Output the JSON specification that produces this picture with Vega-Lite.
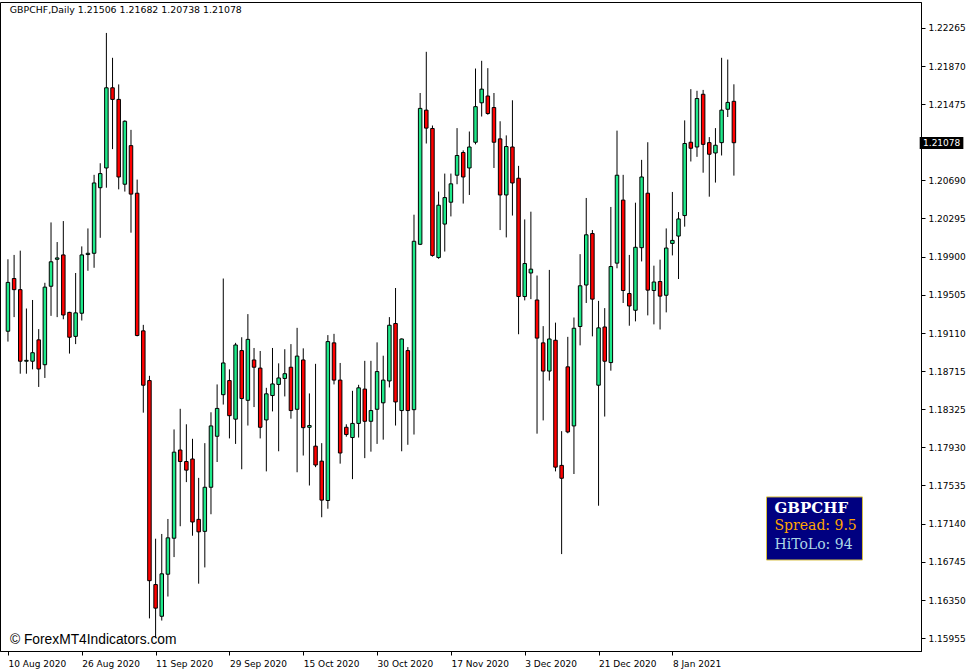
{
  "$schema": "https://vega.github.io/schema/vega-lite/v6.json",
  "width": 921,
  "height": 649,
  "autosize": {"type": "none"},
  "padding": {"left": 0, "top": 2, "right": 56, "bottom": 21},
  "background": "white",
  "config": {
    "view": {"stroke": "#000000", "strokeWidth": 1},
    "axis": {"labelFont": "DejaVu Sans", "labelFontSize": 9, "labelColor": "#000000", "tickColor": "#000000", "domainColor": "#000000", "grid": false, "title": null}
  },
  "datasets": {
    "candles": [
      {"i":0,"o":1.19129,"h":1.19873,"l":1.19022,"c":1.19634},
      {"i":1,"o":1.19674,"h":1.19918,"l":1.19275,"c":1.19559},
      {"i":2,"o":1.19559,"h":1.19962,"l":1.18690,"c":1.18819},
      {"i":3,"o":1.18819,"h":1.19364,"l":1.18690,"c":1.18828},
      {"i":4,"o":1.18819,"h":1.19452,"l":1.18735,"c":1.18907},
      {"i":5,"o":1.19040,"h":1.19151,"l":1.18553,"c":1.18739},
      {"i":6,"o":1.18783,"h":1.19630,"l":1.18646,"c":1.19585},
      {"i":7,"o":1.19594,"h":1.20254,"l":1.19288,"c":1.19847},
      {"i":8,"o":1.19873,"h":1.20051,"l":1.19275,"c":1.19887},
      {"i":9,"o":1.19918,"h":1.20268,"l":1.19253,"c":1.19297},
      {"i":10,"o":1.19324,"h":1.19330,"l":1.18898,"c":1.19067},
      {"i":11,"o":1.19076,"h":1.19731,"l":1.18996,"c":1.19319},
      {"i":12,"o":1.19315,"h":1.20006,"l":1.19240,"c":1.19918},
      {"i":13,"o":1.19922,"h":1.20192,"l":1.19754,"c":1.19935},
      {"i":14,"o":1.19935,"h":1.20746,"l":1.19785,"c":1.20662},
      {"i":15,"o":1.20613,"h":1.20866,"l":1.20095,"c":1.20759},
      {"i":16,"o":1.20817,"h":1.22213,"l":1.20613,"c":1.21646},
      {"i":17,"o":1.21646,"h":1.21956,"l":1.21012,"c":1.21526},
      {"i":18,"o":1.21526,"h":1.21681,"l":1.20596,"c":1.20724},
      {"i":19,"o":1.20649,"h":1.21310,"l":1.20573,"c":1.21300},
      {"i":20,"o":1.21048,"h":1.21211,"l":1.20148,"c":1.20547},
      {"i":21,"o":1.20556,"h":1.20697,"l":1.19076,"c":1.19085},
      {"i":22,"o":1.19133,"h":1.19195,"l":1.18287,"c":1.18571},
      {"i":23,"o":1.18619,"h":1.18668,"l":1.16160,"c":1.16550},
      {"i":24,"o":1.16510,"h":1.16984,"l":1.15960,"c":1.16266},
      {"i":25,"o":1.16182,"h":1.17033,"l":1.16138,"c":1.16621},
      {"i":26,"o":1.16617,"h":1.17188,"l":1.16386,"c":1.16993},
      {"i":27,"o":1.16989,"h":1.18114,"l":1.16794,"c":1.17879},
      {"i":28,"o":1.17901,"h":1.18327,"l":1.17113,"c":1.17782},
      {"i":29,"o":1.17782,"h":1.18167,"l":1.17569,"c":1.17693},
      {"i":30,"o":1.17808,"h":1.18017,"l":1.17015,"c":1.17157},
      {"i":31,"o":1.17184,"h":1.17613,"l":1.16519,"c":1.17055},
      {"i":32,"o":1.17060,"h":1.17972,"l":1.16687,"c":1.17516},
      {"i":33,"o":1.17516,"h":1.18291,"l":1.17237,"c":1.18150},
      {"i":34,"o":1.18043,"h":1.18579,"l":1.17777,"c":1.18331},
      {"i":35,"o":1.18473,"h":1.19674,"l":1.18371,"c":1.18801},
      {"i":36,"o":1.18619,"h":1.18735,"l":1.18021,"c":1.18256},
      {"i":37,"o":1.18220,"h":1.19009,"l":1.17964,"c":1.18987},
      {"i":38,"o":1.18929,"h":1.19067,"l":1.17702,"c":1.18433},
      {"i":39,"o":1.18415,"h":1.19306,"l":1.18154,"c":1.19045},
      {"i":40,"o":1.18832,"h":1.18956,"l":1.18345,"c":1.18757},
      {"i":41,"o":1.18748,"h":1.18925,"l":1.18021,"c":1.18136},
      {"i":42,"o":1.18212,"h":1.18544,"l":1.17680,"c":1.18482},
      {"i":43,"o":1.18464,"h":1.18956,"l":1.18300,"c":1.18584},
      {"i":44,"o":1.18579,"h":1.18797,"l":1.17888,"c":1.18646},
      {"i":45,"o":1.18641,"h":1.18943,"l":1.18455,"c":1.18690},
      {"i":46,"o":1.18757,"h":1.18996,"l":1.18225,"c":1.18309},
      {"i":47,"o":1.18322,"h":1.19164,"l":1.17671,"c":1.18872},
      {"i":48,"o":1.18832,"h":1.18952,"l":1.17844,"c":1.18132},
      {"i":49,"o":1.18136,"h":1.18486,"l":1.17534,"c":1.18154},
      {"i":50,"o":1.17941,"h":1.18792,"l":1.17724,"c":1.17746},
      {"i":51,"o":1.17786,"h":1.17972,"l":1.17206,"c":1.17383},
      {"i":52,"o":1.17379,"h":1.19089,"l":1.17294,"c":1.19022},
      {"i":53,"o":1.19009,"h":1.19102,"l":1.18579,"c":1.18624},
      {"i":54,"o":1.18624,"h":1.18801,"l":1.17760,"c":1.17870},
      {"i":55,"o":1.18136,"h":1.18167,"l":1.18039,"c":1.18061},
      {"i":56,"o":1.18030,"h":1.18513,"l":1.17600,"c":1.18176},
      {"i":57,"o":1.18176,"h":1.18575,"l":1.18030,"c":1.18544},
      {"i":58,"o":1.18531,"h":1.18823,"l":1.17817,"c":1.18198},
      {"i":59,"o":1.18198,"h":1.18823,"l":1.17884,"c":1.18309},
      {"i":60,"o":1.18322,"h":1.19014,"l":1.17964,"c":1.18712},
      {"i":61,"o":1.18389,"h":1.18876,"l":1.18008,"c":1.18624},
      {"i":62,"o":1.18615,"h":1.19275,"l":1.18548,"c":1.19191},
      {"i":63,"o":1.19209,"h":1.19576,"l":1.18154,"c":1.18398},
      {"i":64,"o":1.18309,"h":1.19054,"l":1.17888,"c":1.19049},
      {"i":65,"o":1.18929,"h":1.18965,"l":1.17955,"c":1.18309},
      {"i":66,"o":1.18318,"h":1.20334,"l":1.18061,"c":1.20059},
      {"i":67,"o":1.20028,"h":1.21592,"l":1.20020,"c":1.21433},
      {"i":68,"o":1.21415,"h":1.22018,"l":1.21070,"c":1.21229},
      {"i":69,"o":1.21225,"h":1.21256,"l":1.19900,"c":1.19913},
      {"i":70,"o":1.19891,"h":1.20573,"l":1.19878,"c":1.20432},
      {"i":71,"o":1.20237,"h":1.20759,"l":1.19953,"c":1.20511},
      {"i":72,"o":1.20463,"h":1.20759,"l":1.20316,"c":1.20653},
      {"i":73,"o":1.20742,"h":1.21229,"l":1.20649,"c":1.20946},
      {"i":74,"o":1.20977,"h":1.20999,"l":1.20449,"c":1.20724},
      {"i":75,"o":1.20817,"h":1.21194,"l":1.20538,"c":1.21034},
      {"i":76,"o":1.21083,"h":1.21845,"l":1.21061,"c":1.21451},
      {"i":77,"o":1.21491,"h":1.21925,"l":1.21349,"c":1.21632},
      {"i":78,"o":1.21561,"h":1.21849,"l":1.21367,"c":1.21380},
      {"i":79,"o":1.21442,"h":1.21592,"l":1.20817,"c":1.21083},
      {"i":80,"o":1.21118,"h":1.21300,"l":1.20175,"c":1.20538},
      {"i":81,"o":1.20538,"h":1.21154,"l":1.20099,"c":1.21039},
      {"i":82,"o":1.21034,"h":1.21517,"l":1.20325,"c":1.20662},
      {"i":83,"o":1.20711,"h":1.20839,"l":1.19098,"c":1.19488},
      {"i":84,"o":1.19488,"h":1.20285,"l":1.19448,"c":1.19829},
      {"i":85,"o":1.19731,"h":1.20365,"l":1.19461,"c":1.19771},
      {"i":86,"o":1.19452,"h":1.19705,"l":1.18070,"c":1.19058},
      {"i":87,"o":1.19009,"h":1.19182,"l":1.18207,"c":1.18717},
      {"i":88,"o":1.18717,"h":1.19763,"l":1.18619,"c":1.19049},
      {"i":89,"o":1.19036,"h":1.19218,"l":1.17680,"c":1.17724},
      {"i":90,"o":1.17742,"h":1.18096,"l":1.16825,"c":1.17609},
      {"i":91,"o":1.18761,"h":1.19071,"l":1.18074,"c":1.18088},
      {"i":92,"o":1.18150,"h":1.19271,"l":1.17653,"c":1.19160},
      {"i":93,"o":1.19178,"h":1.19926,"l":1.18983,"c":1.19599},
      {"i":94,"o":1.19607,"h":1.20507,"l":1.19421,"c":1.20126},
      {"i":95,"o":1.20139,"h":1.20175,"l":1.19076,"c":1.19461},
      {"i":96,"o":1.18571,"h":1.19443,"l":1.17325,"c":1.19164},
      {"i":97,"o":1.19173,"h":1.19368,"l":1.18247,"c":1.18819},
      {"i":98,"o":1.18805,"h":1.20414,"l":1.18721,"c":1.19798},
      {"i":99,"o":1.19833,"h":1.21203,"l":1.19780,"c":1.20742},
      {"i":100,"o":1.20485,"h":1.20746,"l":1.19421,"c":1.19550},
      {"i":101,"o":1.19519,"h":1.19918,"l":1.19186,"c":1.19390},
      {"i":102,"o":1.19346,"h":1.20458,"l":1.19231,"c":1.19997},
      {"i":103,"o":1.19993,"h":1.20901,"l":1.19851,"c":1.20724},
      {"i":104,"o":1.20556,"h":1.21083,"l":1.19293,"c":1.19554},
      {"i":105,"o":1.19550,"h":1.19807,"l":1.19200,"c":1.19638},
      {"i":106,"o":1.19643,"h":1.19869,"l":1.19147,"c":1.19492},
      {"i":107,"o":1.19501,"h":1.20192,"l":1.19324,"c":1.19989},
      {"i":108,"o":1.20037,"h":1.20569,"l":1.19913,"c":1.20068},
      {"i":109,"o":1.20113,"h":1.20361,"l":1.19669,"c":1.20290},
      {"i":110,"o":1.20325,"h":1.21309,"l":1.20210,"c":1.21070},
      {"i":111,"o":1.21083,"h":1.21632,"l":1.20884,"c":1.21021},
      {"i":112,"o":1.21034,"h":1.21615,"l":1.20932,"c":1.21535},
      {"i":113,"o":1.21579,"h":1.21624,"l":1.20768,"c":1.21061},
      {"i":114,"o":1.21079,"h":1.21136,"l":1.20520,"c":1.20959},
      {"i":115,"o":1.20972,"h":1.21229,"l":1.20666,"c":1.21052},
      {"i":116,"o":1.21079,"h":1.21956,"l":1.20946,"c":1.21415},
      {"i":117,"o":1.21424,"h":1.21938,"l":1.21344,"c":1.21495},
      {"i":118,"o":1.21506,"h":1.21682,"l":1.20738,"c":1.21078}
    ],
    "one": [{"k": 1}]
  },
  "layer": [
    {
      "data": {"name": "candles"},
      "mark": {"type": "rule", "color": "#000000", "strokeWidth": 1},
      "encoding": {
        "x": {
          "field": "i", "type": "quantitative",
          "scale": {"domain": [-0.48, 147.6], "nice": false, "zero": false},
          "axis": {
            "orient": "bottom", "values": [0, 12, 24, 36, 48, 60, 72, 84, 96, 108],
            "labelExpr": "['10 Aug 2020','26 Aug 2020','11 Sep 2020','29 Sep 2020','15 Oct 2020','30 Oct 2020','17 Nov 2020','3 Dec 2020','21 Dec 2020','8 Jan 2021'][round(datum.value/12)]",
            "labelAlign": "left", "labelPadding": 4, "labelDx": -2, "tickSize": 4, "labelFlush": false, "labelOverlap": false, "domain": true
          }
        },
        "y": {
          "field": "l", "type": "quantitative",
          "scale": {"domain": [1.15823, 1.22533], "nice": false, "zero": false},
          "axis": {
            "orient": "right",
            "values": [1.22265, 1.2187, 1.21475, 1.2069, 1.20295, 1.199, 1.19505, 1.1911, 1.18715, 1.18325, 1.1793, 1.17535, 1.1714, 1.16745, 1.1635, 1.15955],
            "format": ".5f", "tickSize": 4, "labelPadding": 3, "labelOverlap": false, "labelFlush": false
          }
        },
        "y2": {"field": "h"}
      }
    },
    {
      "data": {"name": "candles"},
      "mark": {"type": "bar", "size": 3.5, "stroke": "#000000", "strokeWidth": 1},
      "encoding": {
        "x": {"field": "i", "type": "quantitative"},
        "y": {"field": "o", "type": "quantitative"},
        "y2": {"field": "c"},
        "color": {
          "condition": {"test": "datum.c >= datum.o", "value": "#1ee98a"},
          "value": "#ff0000"
        }
      }
    },
    {
      "data": {"name": "one"},
      "mark": {"type": "text", "text": "GBPCHF,Daily  1.21506 1.21682 1.20738 1.21078", "font": "DejaVu Sans", "fontSize": 9.4, "align": "left", "baseline": "middle", "color": "#000000"},
      "encoding": {"x": {"datum": 0.3, "type": "quantitative"}, "y": {"datum": 1.22451, "type": "quantitative"}}
    },
    {
      "data": {"name": "one"},
      "mark": {"type": "text", "text": "© ForexMT4Indicators.com", "font": "Liberation Sans", "fontSize": 13.8, "align": "left", "baseline": "middle", "color": "#000000"},
      "encoding": {"x": {"datum": 0.32, "type": "quantitative"}, "y": {"datum": 1.15937, "type": "quantitative"}}
    },
    {
      "data": {"name": "one"},
      "mark": {"type": "rect", "fill": "#000080", "stroke": "#d8c040", "strokeWidth": 1},
      "encoding": {
        "x": {"datum": 123.3, "type": "quantitative"}, "x2": {"datum": 138.9},
        "y": {"datum": 1.17416, "type": "quantitative"}, "y2": {"datum": 1.16764}
      }
    },
    {
      "data": {"name": "one"},
      "mark": {"type": "text", "text": "GBPCHF", "font": "DejaVu Serif", "fontSize": 15, "fontWeight": "bold", "align": "left", "baseline": "middle", "color": "#ffffff"},
      "encoding": {"x": {"datum": 124.6, "type": "quantitative"}, "y": {"datum": 1.17302, "type": "quantitative"}}
    },
    {
      "data": {"name": "one"},
      "mark": {"type": "text", "text": "Spread: 9.5", "font": "DejaVu Serif", "fontSize": 14, "align": "left", "baseline": "middle", "color": "#ffa500"},
      "encoding": {"x": {"datum": 124.6, "type": "quantitative"}, "y": {"datum": 1.17116, "type": "quantitative"}}
    },
    {
      "data": {"name": "one"},
      "mark": {"type": "text", "text": "HiToLo: 94", "font": "DejaVu Serif", "fontSize": 14, "align": "left", "baseline": "middle", "color": "#add8e6"},
      "encoding": {"x": {"datum": 124.6, "type": "quantitative"}, "y": {"datum": 1.16919, "type": "quantitative"}}
    },
    {
      "data": {"name": "one"},
      "mark": {"type": "rect", "fill": "#000000"},
      "encoding": {
        "x": {"datum": 148.2, "type": "quantitative"}, "x2": {"datum": 155.3},
        "y": {"datum": 1.21138, "type": "quantitative"}, "y2": {"datum": 1.21013}
      }
    },
    {
      "data": {"name": "one"},
      "mark": {"type": "text", "text": "1.21078", "font": "DejaVu Sans", "fontSize": 9, "align": "center", "baseline": "middle", "color": "#ffffff"},
      "encoding": {"x": {"datum": 151.77, "type": "quantitative"}, "y": {"datum": 1.21076, "type": "quantitative"}}
    }
  ]
}
